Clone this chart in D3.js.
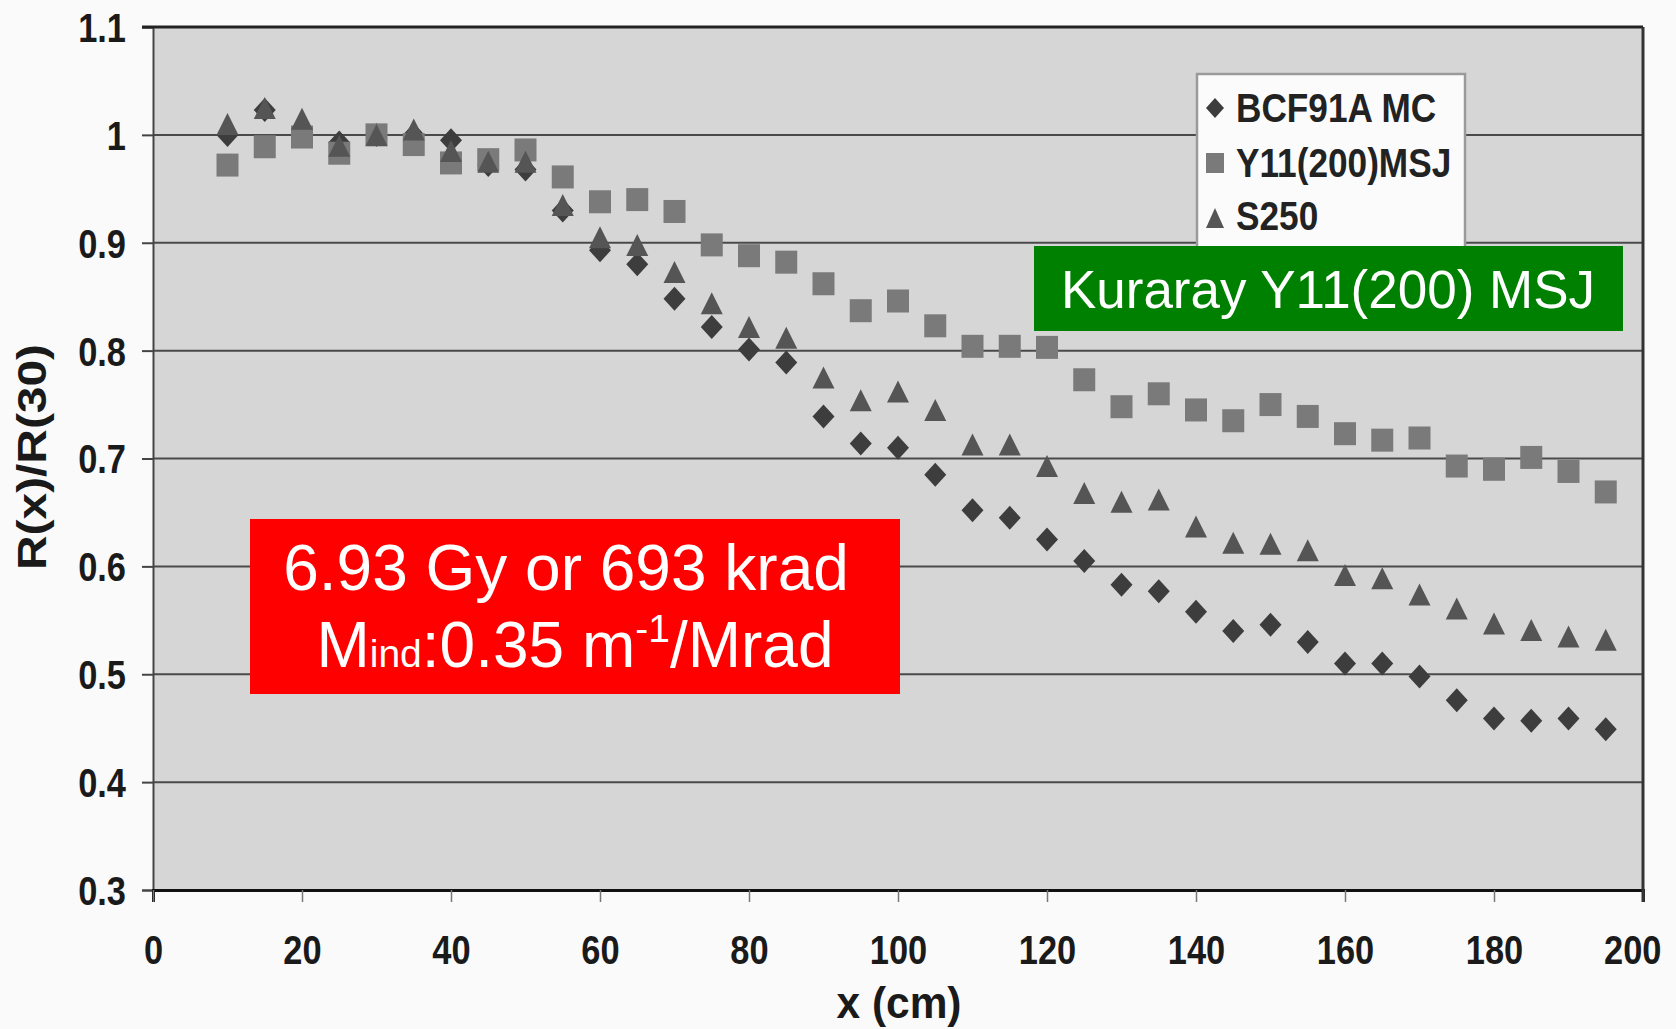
<!DOCTYPE html>
<html><head><meta charset="utf-8">
<script src="https://cdn.jsdelivr.net/npm/d3@7"></script>
<style>body{margin:0;background:#fafafa;} svg{display:block}</style>
</head><body>
<svg id="c" width="1676" height="1029"></svg>
<script>
// ---- data ----
const xPositions = [10,15,20,25,30,35,40,45,50,55,60,65,70,75,80,85,90,95,100,105,110,115,120,125,130,135,140,145,150,155,160,165,170,175,180,185,190,195];
const bcf91aMC = [1.000,1.023,1.005,0.993,1.000,1.000,0.995,0.972,0.968,0.930,0.893,0.880,0.848,0.822,0.801,0.789,0.739,0.714,0.710,0.685,0.652,0.645,0.625,0.605,0.583,0.577,0.558,0.540,0.546,0.530,0.510,0.510,0.498,0.476,0.459,0.457,0.459,0.449];
const y11MSJ   = [0.972,0.989,0.998,0.983,1.000,0.991,0.974,0.977,0.986,0.961,0.938,0.940,0.929,0.898,0.888,0.882,0.862,0.837,0.846,0.823,0.804,0.804,0.803,0.773,0.748,0.760,0.745,0.735,0.750,0.739,0.723,0.717,0.719,0.693,0.690,0.701,0.688,0.669];
const s250     = [1.010,1.025,1.015,0.990,1.000,1.005,0.985,0.975,0.975,0.935,0.905,0.898,0.873,0.844,0.822,0.812,0.775,0.754,0.762,0.745,0.713,0.713,0.693,0.668,0.660,0.662,0.637,0.622,0.621,0.615,0.592,0.589,0.574,0.561,0.547,0.541,0.535,0.532];
const seriesNames = ["BCF91A MC","Y11(200)MSJ","S250"];
const xTicks = [0,20,40,60,80,100,120,140,160,180,200];
const yTicks = [0.3,0.4,0.5,0.6,0.7,0.8,0.9,1.0,1.1];
const gridValues = [0.4,0.5,0.6,0.7,0.8,0.9,1.0];
const xTitle = "x (cm)";
const yTitle = "R(x)/R(30)";
const boxGreen = "Kuraray Y11(200) MSJ";
const boxRedLine1 = "6.93 Gy or 693 krad";

// ---- layout ----
const svg = d3.select("#c");
const L = 153, R = 1643, T = 27, B = 890;
const x = d3.scaleLinear().domain([0,200]).range([L,R]);
const y = d3.scaleLinear().domain([0.3,1.1]).range([B,T]);
const FONT = "'Liberation Sans', Arial, Helvetica, sans-serif";

svg.append("rect").attr("width",1676).attr("height",1029).attr("fill","#fafafa");
svg.append("rect").attr("x",L).attr("y",T).attr("width",R-L).attr("height",B-T).attr("fill","#d6d6d6");

// gridlines
svg.append("g").selectAll("line").data(gridValues).join("line")
  .attr("x1",L).attr("x2",R).attr("y1",d=>y(d)).attr("y2",d=>y(d))
  .attr("stroke","#4a4a4a").attr("stroke-width",2);

function condense(sel, f){
  sel.each(function(){ const w=this.getComputedTextLength(); d3.select(this).attr("textLength",w*f).attr("lengthAdjust","spacingAndGlyphs"); });
}

// y axis
const yAxis = svg.append("g").attr("transform",`translate(${L},0)`)
  .call(d3.axisLeft(y).tickValues(yTicks).tickSize(11).tickPadding(16)
    .tickFormat(d => d===1 ? "1" : d3.format(".1f")(d)));
yAxis.select(".domain").attr("stroke","#444").attr("stroke-width",2);
yAxis.selectAll(".tick line").attr("stroke","#444").attr("stroke-width",2);
yAxis.selectAll("text").attr("font-family",FONT).attr("font-weight","bold").attr("font-size",40).attr("fill","#1a1a1a").attr("dy","0.36em");
condense(yAxis.selectAll("text"),0.86);

// x axis
const xAxis = svg.append("g").attr("transform",`translate(0,${B})`)
  .call(d3.axisBottom(x).tickValues(xTicks).tickSize(12).tickPadding(50).tickFormat(d3.format("d")));
xAxis.select(".domain").attr("stroke","#111").attr("stroke-width",3);
xAxis.selectAll(".tick line").attr("stroke","#777").attr("stroke-width",1.5);
xAxis.selectAll("text").attr("font-family",FONT).attr("font-weight","bold").attr("font-size",40).attr("fill","#1a1a1a").attr("dy","0.3em");
condense(xAxis.selectAll("text"),0.86);
// keep the last label inside the page
xAxis.selectAll(".tick text").filter(d=>d===200).attr("text-anchor","end").attr("x",18);

// frame top / right
svg.append("line").attr("x1",L-11).attr("x2",R).attr("y1",T).attr("y2",T).attr("stroke","#222").attr("stroke-width",3);
svg.append("line").attr("x1",R).attr("x2",R).attr("y1",T).attr("y2",B+12).attr("stroke","#333").attr("stroke-width",3);

// titles
svg.append("text").attr("x",899).attr("y",1018).attr("text-anchor","middle")
  .attr("font-family",FONT).attr("font-weight","bold").attr("font-size",44).attr("fill","#1a1a1a")
  .attr("textLength",125).attr("lengthAdjust","spacingAndGlyphs").text(xTitle);
svg.append("text").attr("transform","translate(46,457) rotate(-90)").attr("text-anchor","middle")
  .attr("font-family",FONT).attr("font-weight","bold").attr("font-size",40).attr("fill","#1a1a1a")
  .attr("textLength",226).attr("lengthAdjust","spacingAndGlyphs").text(yTitle);

// markers
const shapes = {
  diamond: (w,h)=>`M0,${-h}L${w},0L0,${h}L${-w},0Z`,
  square: (w,h)=>`M${-w},${-h}H${w}V${h}H${-w}Z`,
  triangle: (w,h)=>`M0,${-h}L${w},${h}L${-w},${h}Z`
};
const series = [
  {name:seriesNames[0], values:bcf91aMC, shape:"diamond", w:11, h:12, color:"#3d3d3d"},
  {name:seriesNames[1], values:y11MSJ, shape:"square", w:11, h:11.5, color:"#7a7a7a"},
  {name:seriesNames[2], values:s250, shape:"triangle", w:11, h:11, color:"#555555"}
];
series.forEach(s=>{
  svg.append("g").selectAll("path").data(xPositions.map((xv,i)=>[xv,s.values[i]])).join("path")
    .attr("transform",d=>`translate(${x(d[0])},${y(d[1])})`)
    .attr("d",shapes[s.shape](s.w,s.h)).attr("fill",s.color);
});

// legend
const lg = svg.append("g");
lg.append("rect").attr("x",1197).attr("y",74).attr("width",268).attr("height",190)
  .attr("fill","#fbfbfb").attr("stroke","#9a9a9a").attr("stroke-width",2.5);
const legRows = [108,163,218], legBase=[122,177,230];
series.forEach((s,i)=>{
  lg.append("path").attr("transform",`translate(1215,${legRows[i]})`).attr("d",shapes[s.shape](9,10)).attr("fill",s.color);
  const t = lg.append("text").attr("x",1236).attr("y",legBase[i]).attr("font-family",FONT).attr("font-weight","bold")
    .attr("font-size",40).attr("fill","#222").text(s.name);
  condense(t,0.88);
});

// green annotation
svg.append("rect").attr("x",1034).attr("y",246).attr("width",589).attr("height",85).attr("fill","#008000");
svg.append("text").attr("x",1328).attr("y",308).attr("text-anchor","middle").attr("font-family",FONT)
  .attr("font-size",53).attr("fill","#ffffff").text(boxGreen);

// red annotation
svg.append("rect").attr("x",250).attr("y",519).attr("width",650).attr("height",175).attr("fill","#ff0000");
svg.append("text").attr("x",566).attr("y",590).attr("text-anchor","middle").attr("font-family",FONT)
  .attr("font-size",64).attr("fill","#ffffff").text(boxRedLine1);
const l2 = svg.append("text").attr("x",575).attr("y",667).attr("text-anchor","middle").attr("font-family",FONT)
  .attr("font-size",64).attr("fill","#ffffff");
l2.append("tspan").text("M");
l2.append("tspan").attr("font-size",39).text("ind");
l2.append("tspan").text(":0.35 m");
l2.append("tspan").attr("font-size",39).attr("dy",-25).text("-1");
l2.append("tspan").attr("dy",25).text("/Mrad");
</script>
</body></html>
